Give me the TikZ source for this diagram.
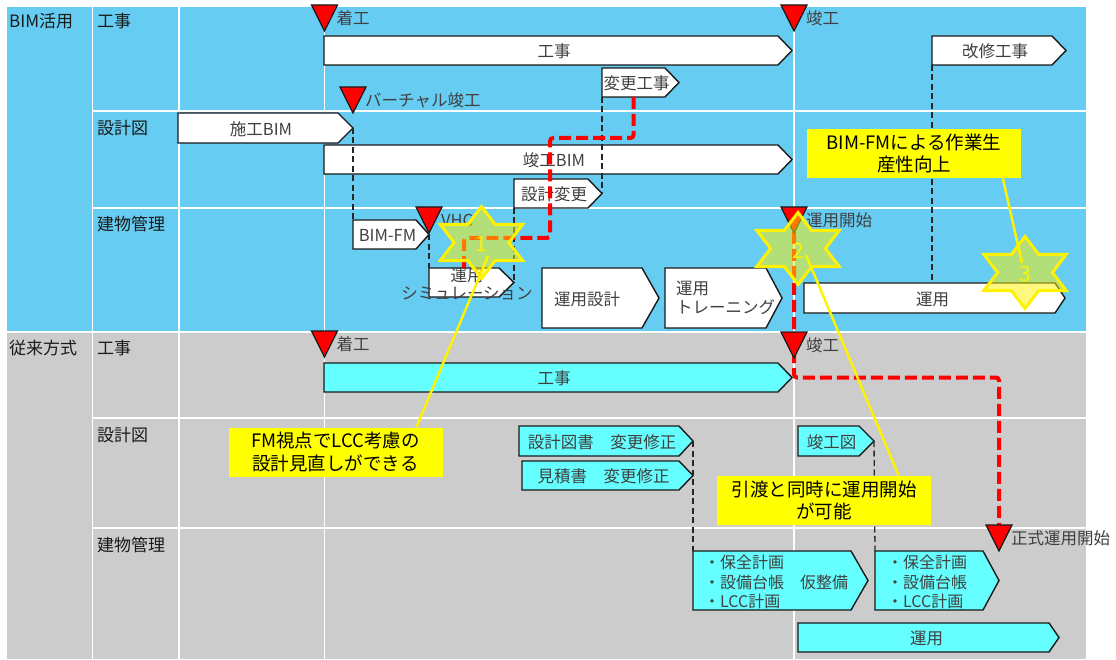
\documentclass[tikz,border=0pt]{standalone}
\usepackage{fontspec}
\setmainfont{Noto Sans CJK JP}
\usetikzlibrary{calc}
\definecolor{bimblue}{HTML}{66CCF2}
\definecolor{oldgray}{HTML}{CCCCCC}
\definecolor{boxcyan}{HTML}{66FFFF}
\definecolor{txtgray}{HTML}{404040}
\definecolor{hdrtxt}{HTML}{1A1A1A}
\definecolor{callyel}{HTML}{FFFF00}

\newcommand\pent[7]{%
  \draw[#2] (#3,#4) -- ({#5-#7},#4) -- (#5,{(#4+#6)/2}) -- ({#5-#7},#6) -- (#3,#6) -- cycle;
  \coordinate (#1-nw) at (#3,#4);
  \coordinate (#1-sw) at (#3,#6);
  \coordinate (#1-tip) at (#5,{(#4+#6)/2});
  \coordinate (#1-t) at ({(#3+#5-#7)/2},#4);
  \coordinate (#1-b) at ({(#3+#5-#7)/2},#6);
  \coordinate (#1-c) at ({(#3+#5-#7)/2+3},{(#4+#6)/2+1});
}
\newcommand\redtriangle[4]{%
  \coordinate (#1) at (#2,{#3+26});
  \coordinate (#1-top) at (#2,#3);
  \draw[redtri] (#1) -- ++(-13,-26) -- ++(26,0) -- cycle;
  \node[trilabel] (#1-l) at ({#2+12},{#3+13}) {#4};
}
\newcommand\hexstar[4]{%
  \begin{scope}[shift={(#2,#3)}]
    \filldraw[starsty] (90:47.5 and 36) -- (120:27.4 and 20.8) -- (150:47.5 and 36) -- (180:27.4 and 20.8)
      -- (210:47.5 and 36) -- (240:27.4 and 20.8) -- (270:47.5 and 36) -- (300:27.4 and 20.8)
      -- (330:47.5 and 36) -- (0:27.4 and 20.8) -- (30:47.5 and 36) -- (60:27.4 and 20.8) -- cycle;
  \end{scope}
  \node[starnum] (#1) at (#2,{#3+2}) {#4};
}

\begin{document}
\begin{tikzpicture}[x=1pt,y=-1pt,
  gridline/.style={white,line width=1.8},
  hdr/.style={anchor=west,inner sep=0,text=hdrtxt,font=\fontsize{17}{20}\selectfont},
  wbox/.style={draw=black!90,fill=white,line width=1.4,line join=miter},
  cbox/.style={draw=black!90,fill=boxcyan,line width=1.4,line join=miter},
  boxtext/.style={inner sep=0,text=txtgray,font=\fontsize{16.5}{18.5}\selectfont},
  redtri/.style={draw=black!90,fill=red,line width=1.2,line join=miter},
  trilabel/.style={anchor=west,inner sep=0,text=txtgray,font=\fontsize{16.5}{19}\selectfont},
  bdash/.style={draw=black!85,line width=1.3,dash pattern=on 6pt off 3.5pt},
  reddash/.style={draw=red,line width=4,dash pattern=on 12pt off 5pt,rounded corners=3},
  starsty/.style={draw=yellow,line width=3,fill=yellow,fill opacity=0.5,line join=miter},
  starnum/.style={inner sep=0,text=yellow,font=\fontsize{21}{24}\selectfont},
  yline/.style={draw=yellow,line width=2.5},
  callout/.style={fill=callyel,inner sep=0,align=center,text=black,font=\fontsize{18.5}{22.5}\selectfont,minimum width=214pt,minimum height=49pt}
]
\useasboundingbox (0,0) rectangle (1116,660);
\fill[white] (0,0) rectangle (1116,660);
% backgrounds
\fill[bimblue] (7,7) rectangle (1086,332);
\fill[oldgray] (7,332) rectangle (1086,659);
% grid
\draw[gridline] (92.5,7) -- (92.5,659);
\draw[gridline] (179,7) -- (179,659);
\draw[gridline] (324.5,7) -- (324.5,659);
\draw[gridline] (794,7) -- (794,659);
\draw[gridline] (92.5,111) -- (1086,111);
\draw[gridline] (92.5,208) -- (1086,208);
\draw[gridline] (7,332) -- (1086,332);
\draw[gridline] (92.5,418) -- (1086,418);
\draw[gridline] (92.5,528) -- (1086,528);
% headers
\node[hdr] (hBIM) at (9,21) {BIM活用};
\node[hdr] (hK1) at (97,21) {工事};
\node[hdr] (hS1) at (97,128) {設計図};
\node[hdr] (hT1) at (97,224) {建物管理};
\node[hdr] (hOld) at (9,348) {従来方式};
\node[hdr] (hK2) at (97,348) {工事};
\node[hdr] (hS2) at (97,435) {設計図};
\node[hdr] (hT2) at (97,545) {建物管理};

% BIM boxes
\pent{kouji1}{wbox}{324}{36}{792}{65}{14}
\node[boxtext] (kouji1) at (kouji1-c) {工事};
\pent{henko}{wbox}{602}{68}{679}{97}{14}
\node[boxtext] (henko) at (henko-c) {変更工事};
\pent{kaishu}{wbox}{932}{36}{1066}{65}{14}
\node[boxtext] (kaishu) at (kaishu-c) {改修工事};
\pent{sekoBIM}{wbox}{178}{113}{353}{143}{15}
\node[boxtext] (sekoBIM) at (sekoBIM-c) {施工BIM};
\pent{shunkoBIM}{wbox}{324}{145}{792}{174}{14}
\node[boxtext] (shunkoBIM) at (shunkoBIM-c) {竣工BIM};
\pent{sekkeiHenko}{wbox}{514}{179}{602}{208}{14}
\node[boxtext] (sekkeiHenko) at (sekkeiHenko-c) {設計変更};
\pent{bimfm}{wbox}{353}{220}{429}{249}{13}
\node[boxtext] (bimfm) at (bimfm-c) {BIM-FM};
\pent{sim}{wbox}{429}{268}{514}{297}{15}
\node[boxtext,align=center] (sim) at (467,284) {運用\\シミュレーション};
\pent{unyoSekkei}{wbox}{542}{268}{659}{328}{17}
\node[boxtext,anchor=west] (unyoSekkei) at (554,299) {運用設計};
\pent{training}{wbox}{665}{268}{782}{328}{16}
\node[boxtext,anchor=west,align=left] (training) at (676,298) {運用\\トレーニング};
\pent{unyo1}{wbox}{804}{283}{1065}{313}{10}
\node[boxtext] (unyo1) at (unyo1-c) {運用};

% conventional boxes
\pent{kouji2}{cbox}{324}{363}{792}{392}{14}
\node[boxtext] (kouji2) at (kouji2-c) {工事};
\pent{tosho}{cbox}{519}{426}{693}{456}{14}
\node[boxtext] (tosho) at (tosho-c) {設計図書　変更修正};
\pent{mitsumori}{cbox}{522}{461}{693}{490}{14}
\node[boxtext] (mitsumori) at (mitsumori-c) {見積書　変更修正};
\pent{shunkozu}{cbox}{798}{426}{874}{456}{15}
\node[boxtext] (shunkozu) at (shunkozu-c) {竣工図};
\pent{boxA}{cbox}{693}{551}{868}{610}{17}
\node[boxtext,anchor=west,align=left,font=\fontsize{16}{19.5}\selectfont] (boxA) at (704,582) {・保全計画\\・設備台帳　仮整備\\・LCC計画};
\pent{boxB}{cbox}{875}{551}{999}{610}{16}
\node[boxtext,anchor=west,align=left,font=\fontsize{16}{19.5}\selectfont] (boxB) at (887,582) {・保全計画\\・設備台帳\\・LCC計画};
\pent{unyo2}{cbox}{798}{623}{1059}{652}{10}
\node[boxtext] (unyo2) at (unyo2-c) {運用};

% black dashed connectors
\coordinate (unyo1-k) at (kaishu-sw |- unyo1-nw);
\draw[bdash] (sekoBIM-tip) -- (bimfm-nw);
\draw[bdash] (henko-sw) -- (sekkeiHenko-tip);
\draw[bdash] (bimfm-tip) -- (sim-nw);
\draw[bdash] (sekkeiHenko-sw) -- (sim-tip);
\draw[bdash] (kaishu-sw) -- (unyo1-k);
\draw[bdash] (tosho-tip) -- (boxA-nw);
\draw[bdash] (shunkozu-tip) -- (boxB-nw);

% red dashed paths
\coordinate (r1b) at (550,138);
\coordinate (r1c) at (550,238);
\coordinate (r1a) at (henko-b |- r1b);
\coordinate (r1d) at (sim-t |- r1c);
\draw[reddash] (henko-b) -- (r1a) -- (r1b) -- (r1c) -- (r1d) -- (sim-t);

\coordinate (t5pt) at (794,232);
\coordinate (t8pt) at (999,525);
\coordinate (r2a) at (t5pt |- kouji2-tip);
\coordinate (r2b) at (t8pt |- kouji2-tip);
\draw[reddash] (t5pt) -- (r2a) -- (r2b) -- (t8pt);

% triangles
\redtriangle{t1}{324.5}{5}{着工}
\redtriangle{t2}{353}{87}{バーチャル竣工}
\redtriangle{t3}{794}{5}{竣工}
\redtriangle{t4}{429}{207}{VHC}
\redtriangle{t5}{794}{207}{運用開始}
\redtriangle{t6}{324.5}{331}{着工}
\redtriangle{t7}{794}{332}{竣工}
\redtriangle{t8}{999}{525}{正式運用開始}

% stars
\hexstar{s1}{481.5}{242.5}{1}
\hexstar{s2}{798}{248.5}{2}
\hexstar{s3}{1025}{272.5}{3}

% callouts
\node[callout] (c1) at (335.5,452) {FM視点でLCC考慮の\\設計見直しができる};
\node[callout] (c2) at (824,500.5) {引渡と同時に運用開始\\が可能};
\node[callout] (c3) at (914,153.5) {BIM-FMによる作業生\\産性向上};
\coordinate (s1e) at (488,256);
\coordinate (s2e) at (806,255);
\coordinate (s3e) at (1022,263);
\draw[yline] (s1e) -- ([xshift=188]c1.north west);
\draw[yline] (s2e) -- ([xshift=182]c2.north west);
\draw[yline] (s3e) -- ([xshift=196]c3.south west);
\end{tikzpicture}
\end{document}
